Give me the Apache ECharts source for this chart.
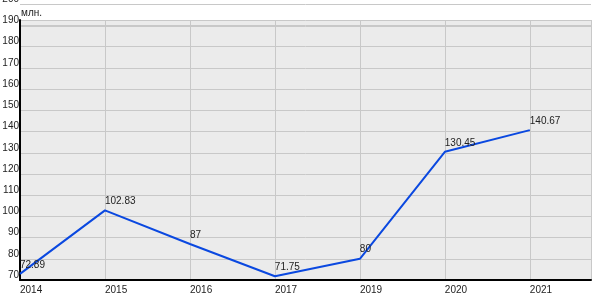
<!DOCTYPE html>
<html>
<head>
<meta charset="utf-8">
<script src="https://cdn.jsdelivr.net/npm/echarts@6/dist/echarts.min.js"></script>
<style>html,body{margin:0;padding:0;background:#fff}#c{width:600px;height:300px}</style>
</head>
<body>
<div id="c"></div>
<script>
const categories = ['2014', '2015', '2016', '2017', '2019', '2020', '2021'];
const values = [72.89, 102.83, 87, 71.75, 80, 130.45, 140.67];
const unitLabel = 'млн.';

const FONT = '"Liberation Sans Narrow", "Liberation Sans", Arial, sans-serif';
const TXT = '#222';
const GRID_LINE = '#c8c8c8';

const chart = echarts.init(document.getElementById('c'));
chart.setOption({
  animation: false,
  title: {
    text: unitLabel, left: 21, top: 8, padding: 0,
    textStyle: { fontFamily: FONT, fontSize: 10, fontWeight: 'normal', color: TXT }
  },
  grid: [
    { left: 20, right: 9, top: 20, bottom: 20, show: true, backgroundColor: '#ebebeb', borderWidth: 0, outerBoundsMode: 'none', containLabel: false },
    { left: 20, right: 9, top: 4.7, height: 21.2, show: false, outerBoundsMode: 'none', containLabel: false }
  ],
  xAxis: [
    {
      type: 'value', gridIndex: 0, min: 0, max: 6.72, interval: 1,
      axisLine: { show: true, onZero: false, lineStyle: { color: '#000', width: 2 } },
      axisTick: { show: false },
      splitLine: { show: true, lineStyle: { color: GRID_LINE, width: 1 } },
      axisLabel: {
        showMaxLabel: false, margin: 5, align: 'left',
        fontFamily: FONT, fontSize: 10, color: TXT,
        formatter: v => (categories[v] !== undefined ? categories[v] : '')
      }
    },
    { type: 'value', gridIndex: 1, min: 0, max: 1, show: false }
  ],
  yAxis: [
    {
      type: 'value', gridIndex: 0, min: 70, max: 192.6, interval: 10,
      axisLine: { show: true, lineStyle: { color: '#000', width: 2 } },
      axisTick: { show: false },
      splitLine: { show: true, lineStyle: { color: GRID_LINE, width: 1 } },
      axisLabel: {
        showMaxLabel: false, margin: 1, verticalAlign: 'bottom', lineHeight: 10,
        fontFamily: FONT, fontSize: 10, color: TXT
      }
    },
    {
      type: 'value', gridIndex: 1, min: 190, max: 200, interval: 10,
      axisLine: { show: false }, axisTick: { show: false },
      splitLine: { show: true, lineStyle: { color: GRID_LINE, width: 1 } },
      axisLabel: {
        showMinLabel: false, margin: 1, verticalAlign: 'bottom', lineHeight: 10,
        fontFamily: FONT, fontSize: 10, color: TXT
      }
    }
  ],
  series: [{
    type: 'line',
    xAxisIndex: 0, yAxisIndex: 0,
    data: values.map((v, i) => [i, v]),
    symbol: 'circle', symbolSize: 0.1, showSymbol: true,
    itemStyle: { color: '#0a48e0' },
    lineStyle: { color: '#0a48e0', width: 2 },
    clip: false,
    label: {
      show: true, position: [0, -4], align: 'left', verticalAlign: 'bottom',
      fontFamily: FONT, fontSize: 10, color: TXT,
      formatter: p => String(p.value[1])
    }
  }]
});
</script>
</body>
</html>
